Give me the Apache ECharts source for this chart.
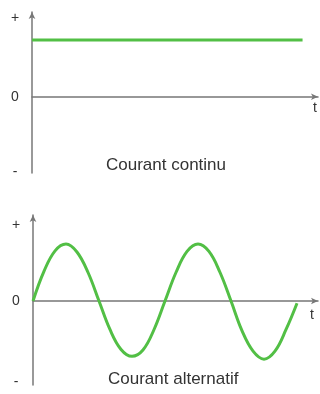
<!DOCTYPE html>
<html>
<head>
<meta charset="utf-8">
<script src="https://cdn.jsdelivr.net/npm/echarts@6/dist/echarts.min.js"></script>
<style>
  html, body { margin: 0; padding: 0; background: #fff; }
  #chart { width: 320px; height: 394px; }
</style>
</head>
<body>
<div id="chart"></div>
<script>
// courant continu : valeur constante (t en périodes)
var dcTimes = [0, 2.05]
var dcValues = [1, 1]

// courant alternatif : points, tous les 1/12 de période
var acTimes = [0, 0.083, 0.167, 0.25, 0.333, 0.417, 0.5, 0.583, 0.667, 0.75, 0.833, 0.917,
  1, 1.083, 1.167, 1.25, 1.333, 1.417, 1.5, 1.583, 1.667, 1.75, 1.833, 1.917, 2]
var acValues = [0, 0.52, 0.88, 1, 0.86, 0.5, 0, -0.5, -0.85, -0.97, -0.86, -0.5,
  0, 0.5, 0.87, 1, 0.87, 0.5, 0, -0.52, -0.88, -1.02, -0.88, -0.5, -0.04]

// libellés des axes
var yTickTop = [1.39, 0, -1.33]
var yTickBottom = [1.33, 0, -1.42]
var yTickText = ['+', '0', '-']
var xName = 't'
var titles = ['Courant continu', 'Courant alternatif']

var green = '#52bf45'
var axisGrey = '#777'

function pairs (xs, ys) {
  return xs.map(function (x, i) { return [x, ys[i]] })
}

function yAxisOf (gridIndex, min, max, ticks) {
  return {
    type: 'value',
    gridIndex: gridIndex,
    min: min,
    max: max,
    splitLine: { show: false },
    axisTick: { show: false },
    axisLine: {
      show: true,
      symbol: ['none', 'arrow'],
      symbolSize: [5, 7],
      lineStyle: { color: axisGrey, width: 1.5 }
    },
    axisLabel: {
      customValues: ticks,
      margin: 17,
      align: 'center',
      fontSize: 14,
      fontFamily: 'Liberation Sans',
      color: '#333',
      formatter: function (v) {
        return yTickText[ticks.indexOf(v)]
      }
    }
  }
}

function xAxisOf (gridIndex, max, gap, padTop) {
  return {
    type: 'value',
    gridIndex: gridIndex,
    min: 0,
    max: max,
    name: xName,
    nameLocation: 'end',
    nameGap: gap,
    nameTextStyle: {
      fontSize: 14,
      fontFamily: 'Liberation Sans',
      color: '#333',
      align: 'center',
      verticalAlign: 'top',
      padding: [padTop, 0, 0, 0]
    },
    splitLine: { show: false },
    axisTick: { show: false },
    axisLabel: { show: false },
    axisLine: {
      show: true,
      onZero: true,
      symbol: ['none', 'arrow'],
      symbolSize: [5, 7],
      lineStyle: { color: axisGrey, width: 1.5 }
    }
  }
}

var myChart = echarts.init(document.getElementById('chart'))
myChart.setOption({
  animation: false,
  title: [
    {
      text: titles[0],
      left: 106,
      top: 157,
      padding: 0,
      textStyle: { fontSize: 17, fontWeight: 'normal', color: '#333', fontFamily: 'Liberation Sans' }
    },
    {
      text: titles[1],
      left: 108,
      top: 371,
      padding: 0,
      textStyle: { fontSize: 17, fontWeight: 'normal', color: '#333', fontFamily: 'Liberation Sans' }
    }
  ],
  grid: [
    { left: 32, right: 2, top: 12, height: 161, outerBoundsMode: 'none' },
    { left: 33, right: 2, top: 215, height: 170, outerBoundsMode: 'none' }
  ],
  xAxis: [
    xAxisOf(0, 2.167, -3, 4),
    xAxisOf(1, 2.159, -6, 7)
  ],
  yAxis: [
    yAxisOf(0, -1.34, 1.49, yTickTop),
    yAxisOf(1, -1.474, 1.509, yTickBottom)
  ],
  series: [
    {
      type: 'line',
      xAxisIndex: 0,
      yAxisIndex: 0,
      data: pairs(dcTimes, dcValues),
      showSymbol: false,
      lineStyle: { color: green, width: 3 }
    },
    {
      type: 'line',
      xAxisIndex: 1,
      yAxisIndex: 1,
      data: pairs(acTimes, acValues),
      smooth: 0.4,
      showSymbol: false,
      lineStyle: { color: green, width: 3 }
    }
  ]
})
</script>
</body>
</html>
